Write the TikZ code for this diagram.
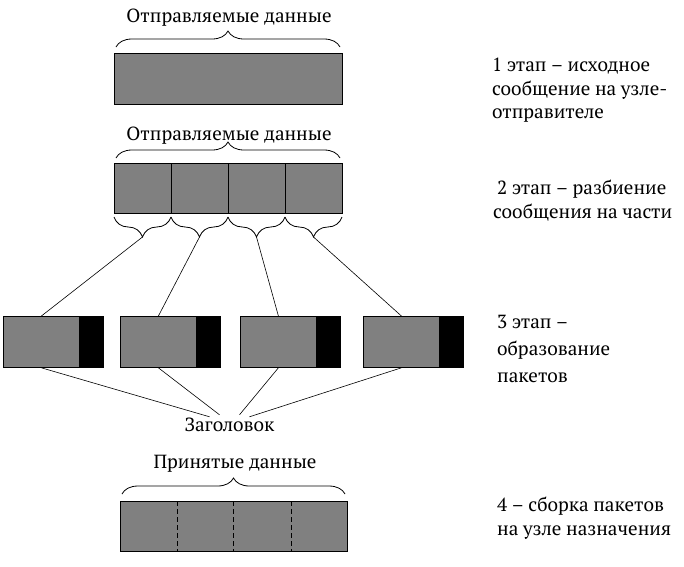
\documentclass[tikz,border=0pt]{standalone}
\usepackage{fontspec}
\setmainfont{PT Serif}
\newfontfamily\rufont{PT Serif}
\usetikzlibrary{decorations.pathreplacing,calc}
\definecolor{pktgray}{HTML}{808080}
\begin{document}
\begin{tikzpicture}[x=1pt,y=-1pt,
  cell/.style={draw=black, fill=pktgray, line width=0.8pt, inner sep=0pt, minimum height=50pt},
  hdrbox/.style={draw=black, fill=black, line width=0.8pt, inner sep=0pt, minimum width=23pt, minimum height=51pt},
  lbl/.style={font=\rufont\fontsize{19}{24}\selectfont, inner sep=0pt},
  stage/.style={font=\rufont\fontsize{19}{23.5}\selectfont, inner sep=0pt, align=left, anchor=north west},
  bigbrace/.style={decorate, decoration={brace, amplitude=16pt}, line width=0.8pt},
  smallbrace/.style={decorate, decoration={brace, amplitude=20pt}, line width=0.8pt},
  conn/.style={line width=0.6pt}]
\useasboundingbox (0,0) rectangle (684,566);

% stage 1
\node[lbl, anchor=base] (l1) at (229,22) {Отправляемые данные};
\draw[bigbrace] (116,47) -- (340,47);
\node[cell, minimum width=228pt, minimum height=51pt, anchor=north west] (b1) at (114,53) {};

% stage 2
\node[lbl, anchor=base] (l2) at (229,140) {Отправляемые данные};
\draw[bigbrace] (116,158) -- (340,158);
\foreach \i/\x in {1/114,2/171,3/228,4/285}{
  \node[cell, minimum width=57pt, anchor=north west] (c\i) at (\x,163) {};
}
\foreach \i/\x in {1/114,2/171,3/228,4/285}{
  \draw[smallbrace] (\x+57,217) -- (\x,217);
  \coordinate (t\i) at (\x+28.5,237);
}

% stage 3: packets
\foreach \i/\x in {1/3,2/120,3/240,4/363}{
  \node[cell, minimum width=76pt, minimum height=51pt, anchor=north west] (p\i) at (\x,316) {};
  \node[hdrbox, anchor=west] (h\i) at (p\i.east) {};
}
\foreach \i in {1,2,3,4}{
  \draw[conn] (t\i) -- (p\i.north);
}
\node[lbl, anchor=base] (hdr) at (229.5,431.5) {Заголовок};
\draw[conn] (p1.south) -- ($(hdr.north)+(-20,-1)$);
\draw[conn] (p2.south) -- ($(hdr.north)+(-10,-3)$);
\draw[conn] (p3.south) -- ($(hdr.north)+(10,-3)$);
\draw[conn] (p4.south) -- ($(hdr.north)+(20,-1)$);

% stage 4
\node[lbl, anchor=base] (l4) at (235,468) {Принятые данные};
\draw[bigbrace] (122,494) -- (345,494);
\node[cell, minimum width=227pt, anchor=north west] (b4) at (120,501) {};
\foreach \x in {177,233,291}{
  \draw[dashed, line width=0.8pt, dash pattern=on 5pt off 3pt] (\x,501) -- (\x,551);
}

% stage texts
\node[stage] (s1) at (492,58) {1 этап – исходное\\сообщение на узле-\\отправителе};
\node[stage] (s2) at (497,180) {2 этап – разбиение};
\node[stage] (s2b) at (493,203.5) {сообщения на части};
\node[stage, font=\rufont\fontsize{19}{26.8}\selectfont] (s3) at (497,315) {3 этап –\\образование\\пакетов};
\node[stage] (s4) at (497,497) {4 – сборка пакетов\\на узле назначения};
\end{tikzpicture}
\end{document}
